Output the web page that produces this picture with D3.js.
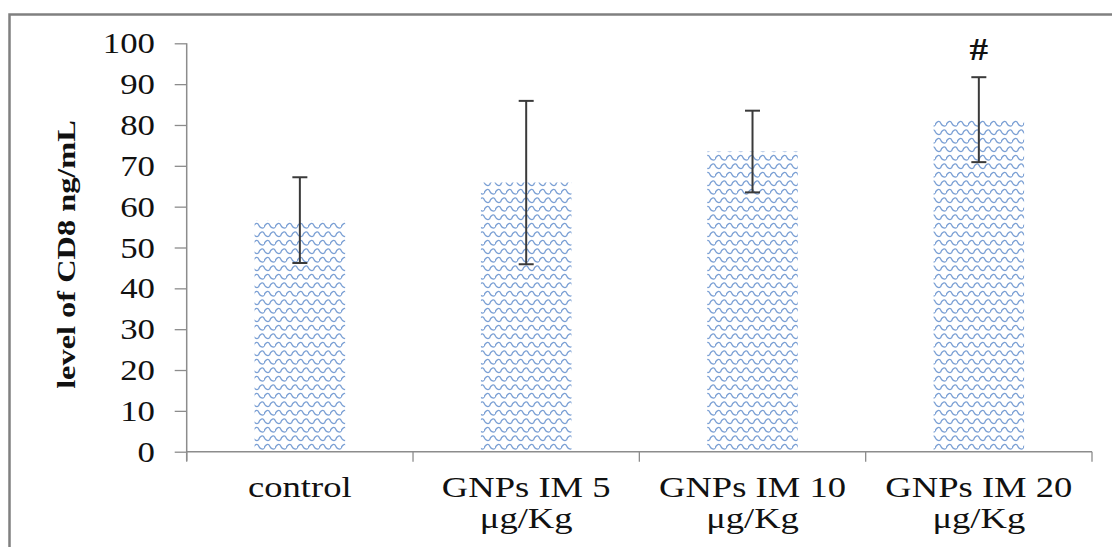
<!DOCTYPE html>
<html>
<head>
<meta charset="utf-8">
<script src="https://cdn.jsdelivr.net/npm/d3@7"></script>
<style>
  body { margin: 0; background: #fff; }
  svg { display: block; }
</style>
</head>
<body>
<div id="chart"></div>
<script>
// chart data
const categories = ["control", "GNPs IM 5 μg/Kg", "GNPs IM 10 μg/Kg", "GNPs IM 20 μg/Kg"];
const means = [56.7, 65.9, 73.5, 81.3];
const errors = [10.5, 20, 10, 10.4];
const marks = ["", "", "", "#"];
const yTicks = [0, 10, 20, 30, 40, 50, 60, 70, 80, 90, 100];
const yTitle = "level of CD8 ng/mL";

const data = categories.map((c, i) => ({ cat: c, mean: means[i], err: errors[i], mark: marks[i] }));

const W = 1112, H = 547;
const svg = d3.select("#chart").append("svg")
    .attr("width", W)
    .attr("height", H);

// frame of the figure, runs off the right and bottom edges
svg.append("rect")
    .attr("x", 9.5).attr("y", 14.5)
    .attr("width", 1200).attr("height", 600)
    .attr("fill", "none")
    .attr("stroke", "#808080")
    .attr("stroke-width", 2.5);

// wave (fish scale) fill pattern like the excel one, two offset rows per tile
const pat = svg.append("defs").append("pattern")
    .attr("id", "wave")
    .attr("patternUnits", "userSpaceOnUse")
    .attr("width", 11).attr("height", 17);
pat.append("rect").attr("width", 11).attr("height", 17).attr("fill", "#fff");
pat.selectAll("path")
    .data([[0, 0], [-5.5, 8.5], [5.5, 8.5]])
    .join("path")
    .attr("transform", d => `translate(${d[0]},${d[1]})`)
    .attr("d", "M0,6.5 C1.2,2 4.5,1.2 5.8,4.2 C6.6,6.2 9,8 11,6.5")
    .attr("fill", "none")
    .attr("stroke", "#7a9fd4")
    .attr("stroke-width", 1.3);

const x0 = 186.7, x1 = 1092, yBase = 451.7, yTop = 43.3;

const xScale = d3.scaleBand()
    .domain(categories)
    .range([x0, x1])
    .paddingInner(0.6)
    .paddingOuter(0.3);

const yScale = d3.scaleLinear()
    .domain([0, 100])
    .range([yBase, yTop]);

const serif = "'Liberation Serif', 'Times New Roman', serif";

// bars
svg.selectAll("rect.bar")
    .data(data)
    .join("rect")
    .attr("class", "bar")
    .attr("x", d => xScale(d.cat))
    .attr("y", d => yScale(d.mean))
    .attr("width", xScale.bandwidth())
    .attr("height", d => yBase - yScale(d.mean))
    .attr("fill", "url(#wave)");

// y axis
const yAxis = svg.append("g")
    .attr("transform", `translate(${x0},0)`)
    .call(d3.axisLeft(yScale).tickValues(yTicks).tickSize(12).tickSizeOuter(0));
yAxis.select(".domain").attr("stroke", "#8c8c8c").attr("stroke-width", 1.5)
    .attr("d", `M0,${yTop}V${yBase + 9}`);
yAxis.selectAll(".tick line").attr("stroke", "#8c8c8c").attr("stroke-width", 1.3);
yAxis.selectAll(".tick text")
    .attr("x", null).attr("dy", null)
    .attr("transform", "translate(-31.7,9.6) scale(1.2,1)")
    .attr("text-anchor", "end")
    .style("font-family", serif)
    .style("font-size", "29px")
    .attr("fill", "#111");

// x axis line and category dividers
const step = xScale.step();
const bounds = categories.map(c => xScale(c) - step * 0.3).concat([x1]);
svg.append("line")
    .attr("x1", x0).attr("x2", x1)
    .attr("y1", yBase).attr("y2", yBase)
    .attr("stroke", "#8c8c8c").attr("stroke-width", 1.5);
svg.selectAll("line.xtick")
    .data(bounds)
    .join("line")
    .attr("class", "xtick")
    .attr("x1", d => d).attr("x2", d => d)
    .attr("y1", yBase).attr("y2", yBase + 10)
    .attr("stroke", "#8c8c8c").attr("stroke-width", 1.3);

// category labels, wrapped before the unit
const labels = svg.selectAll("g.xlab")
    .data(data)
    .join("g")
    .attr("class", "xlab")
    .attr("transform", d => `translate(${xScale(d.cat) + xScale.bandwidth() / 2},0)`);
labels.each(function (d) {
    const lines = d.cat.split(/ (?=μg)/);
    d3.select(this).selectAll("text")
        .data(lines)
        .join("text")
        .attr("transform", (t, i) => `translate(0,${497 + i * 31}) scale(1.24,1)`)
        .attr("text-anchor", "middle")
        .style("font-family", serif)
        .style("font-size", "29.5px")
        .attr("fill", "#111")
        .text(t => t);
});

// error bars
const eb = svg.selectAll("g.err")
    .data(data)
    .join("g")
    .attr("class", "err")
    .attr("transform", d => `translate(${xScale(d.cat) + xScale.bandwidth() / 2},0)`)
    .attr("stroke", "#3a3a3a")
    .attr("stroke-width", 2);
eb.append("line")
    .attr("y1", d => yScale(d.mean + d.err))
    .attr("y2", d => yScale(d.mean - d.err));
eb.append("line").attr("x1", -7.5).attr("x2", 7.5)
    .attr("y1", d => yScale(d.mean + d.err)).attr("y2", d => yScale(d.mean + d.err));
eb.append("line").attr("x1", -7.5).attr("x2", 7.5)
    .attr("y1", d => yScale(d.mean - d.err)).attr("y2", d => yScale(d.mean - d.err));

// significance mark
svg.selectAll("text.mark")
    .data(data.filter(d => d.mark))
    .join("text")
    .attr("class", "mark")
    .attr("transform", d => `translate(${xScale(d.cat) + xScale.bandwidth() / 2},${yScale(d.mean + d.err) - 17}) scale(1.2,1)`)
    .attr("text-anchor", "middle")
    .style("font-family", serif)
    .style("font-size", "31px")
    .style("font-weight", "bold")
    .attr("fill", "#111")
    .text(d => d.mark);

// y title
svg.append("text")
    .attr("transform", "translate(75,254.5) rotate(-90) scale(1.27,1)")
    .attr("text-anchor", "middle")
    .style("font-family", serif)
    .style("font-size", "25.5px")
    .style("font-weight", "bold")
    .attr("fill", "#111")
    .text(yTitle);
</script>
</body>
</html>
